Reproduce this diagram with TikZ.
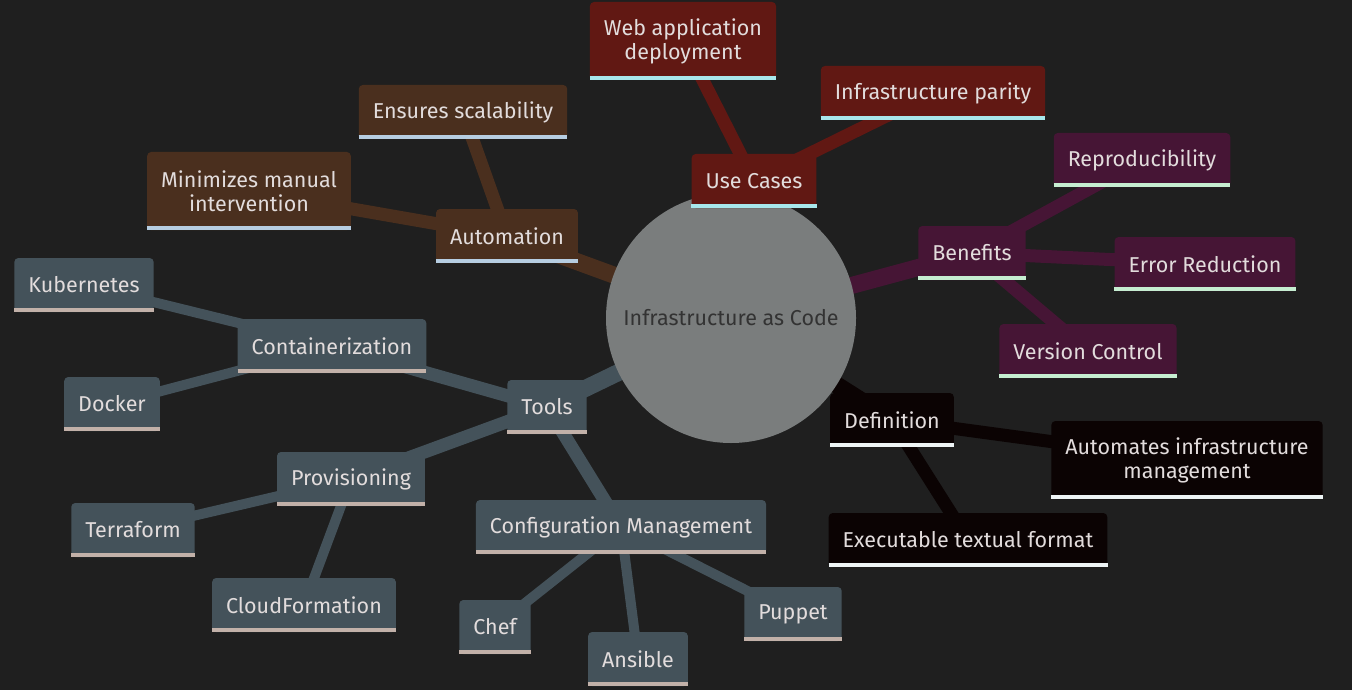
\documentclass[tikz,border=0pt]{standalone}
\usepackage{fontspec}
\setmainfont{Fira Sans}
\usepackage{xcolor}
\usepackage{tikz}
\usetikzlibrary{backgrounds}

\definecolor{canvas}{HTML}{1F1F1F}
\definecolor{rootgray}{HTML}{7A7D7D}
\definecolor{rootink}{HTML}{333333}
\definecolor{labelink}{HTML}{E2DCDC}
\definecolor{usered}{HTML}{611813}
\definecolor{usecyan}{HTML}{A8E7EC}
\definecolor{benpurple}{HTML}{461535}
\definecolor{bengreen}{HTML}{C6EDD1}
\definecolor{defblack}{HTML}{0B0303}
\definecolor{defwhite}{HTML}{EEF4F5}
\definecolor{toolslate}{HTML}{44525A}
\definecolor{toolsand}{HTML}{C2B1A9}
\definecolor{autobrown}{HTML}{4A2F1E}
\definecolor{autoblue}{HTML}{B6CDE1}

\tikzset{link/.style = {line width=#1, line cap=butt}}
\tikzset{uline/.style = {draw=#1, line width=4pt}}

\begin{document}
\begin{tikzpicture}[x=1pt, y=-1pt,
    root node/.style={circle, fill=rootgray, minimum size=250pt, text=rootink, font=\fontsize{21.5}{24}\selectfont},
    box/.style={rectangle, fill=#1, rounded corners=4pt, text=labelink, inner xsep=14pt, minimum height=54pt,
      align=center, font=\fontsize{21.5}{24}\selectfont},
    tall/.style={minimum height=78pt}]

    \useasboundingbox (0,0) rectangle (1352,690);

    \node[root node] (root) at (731,318) {Infrastructure as Code};

    % use cases
    \node[box=usered] (uc) at (754,181) {Use Cases};
    \node[box=usered, tall] (web) at (683,41) {Web application\\deployment};
    \node[box=usered] (parity) at (933,93) {Infrastructure parity};

    % benefits
    \node[box=benpurple] (ben) at (972,253) {Benefits};
    \node[box=benpurple] (repro) at (1142,160) {Reproducibility};
    \node[box=benpurple] (err) at (1205,264) {Error Reduction};
    \node[box=benpurple] (vc) at (1088,351) {Version Control};

    % definition
    \node[box=defblack] (def) at (892,420) {Definition};
    \node[box=defblack, tall] (autom) at (1187,460) {Automates infrastructure\\management};
    \node[box=defblack] (exec) at (968,540) {Executable textual format};

    % automation
    \node[box=autobrown] (auto) at (507,236) {Automation};
    \node[box=autobrown] (scal) at (463,112) {Ensures scalability};
    \node[box=autobrown, tall] (mini) at (249,191) {Minimizes manual\\intervention};

    % tools
    \node[box=toolslate] (tools) at (547,407) {Tools};
    \node[box=toolslate] (cont) at (332,346) {Containerization};
    \node[box=toolslate] (kube) at (84,285) {Kubernetes};
    \node[box=toolslate] (dock) at (112,404) {Docker};
    \node[box=toolslate] (prov) at (351,479) {Provisioning};
    \node[box=toolslate] (terra) at (133,530) {Terraform};
    \node[box=toolslate] (cloud) at (304,605) {CloudFormation};
    \node[box=toolslate] (cm) at (621,527) {Configuration Management};
    \node[box=toolslate] (chef) at (495,627) {Chef};
    \node[box=toolslate] (ans) at (638,659) {Ansible};
    \node[box=toolslate] (pup) at (793,614) {Puppet};

    \foreach \n/\c in {uc/usecyan, web/usecyan, parity/usecyan,
        ben/bengreen, repro/bengreen, err/bengreen, vc/bengreen,
        def/defwhite, autom/defwhite, exec/defwhite,
        auto/autoblue, scal/autoblue, mini/autoblue,
        tools/toolsand, cont/toolsand, kube/toolsand, dock/toolsand, prov/toolsand,
        terra/toolsand, cloud/toolsand, cm/toolsand, chef/toolsand, ans/toolsand, pup/toolsand}
        \draw[uline=\c] ([yshift=2pt]\n.south west) -- ([yshift=2pt]\n.south east);

    \begin{scope}[on background layer]
        \fill[canvas] (0,0) rectangle (1352,690);

        \draw[link=17pt, usered] (root.center) -- (uc.center);
        \draw[link=17pt, benpurple] (root.center) -- (ben.center);
        \draw[link=17pt, defblack] (root.center) -- (def.center);
        \draw[link=17pt, autobrown] (root.center) -- (auto.center);
        \draw[link=17pt, toolslate] (root.center) -- (tools.center);

        \draw[link=13pt, usered] (uc.center) -- (web.center);
        \draw[link=13pt, usered] (uc.center) -- (parity.center);
        \draw[link=13pt, benpurple] (ben.center) -- (repro.center);
        \draw[link=13pt, benpurple] (ben.center) -- (err.center);
        \draw[link=13pt, benpurple] (ben.center) -- (vc.center);
        \draw[link=13pt, defblack] (def.center) -- (autom.center);
        \draw[link=13pt, defblack] (def.center) -- (exec.center);
        \draw[link=13pt, autobrown] (auto.center) -- (scal.center);
        \draw[link=13pt, autobrown] (auto.center) -- (mini.center);
        \draw[link=13pt, toolslate] (tools.center) -- (cont.center);
        \draw[link=13pt, toolslate] (tools.center) -- (prov.center);
        \draw[link=13pt, toolslate] (tools.center) -- (cm.center);

        \draw[link=10pt, toolslate] (cont.center) -- (kube.center);
        \draw[link=10pt, toolslate] (cont.center) -- (dock.center);
        \draw[link=10pt, toolslate] (prov.center) -- (terra.center);
        \draw[link=10pt, toolslate] (prov.center) -- (cloud.center);
        \draw[link=10pt, toolslate] (cm.center) -- (chef.center);
        \draw[link=10pt, toolslate] (cm.center) -- (ans.center);
        \draw[link=10pt, toolslate] (cm.center) -- (pup.center);
    \end{scope}

\end{tikzpicture}
\end{document}
